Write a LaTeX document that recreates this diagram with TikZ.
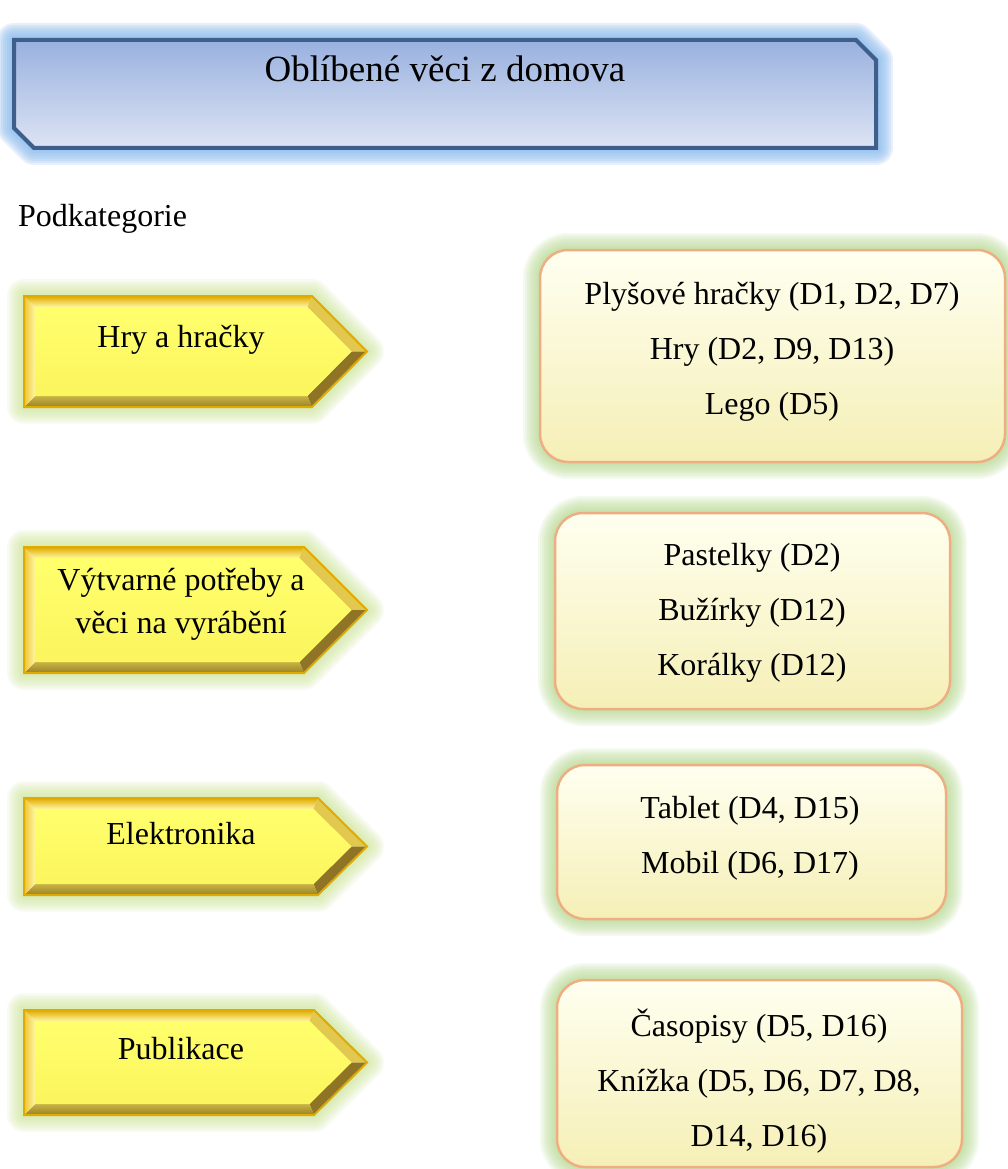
\documentclass[tikz,border=0pt]{standalone}
\usepackage{fontspec}
\setmainfont{Liberation Serif}
\usetikzlibrary{calc}

% palette
\definecolor{titletop}{HTML}{99B1DF}
\definecolor{titlebot}{HTML}{DDE4F4}
\definecolor{titleedge}{HTML}{3E5F8C}
\definecolor{titleglow}{HTML}{8EBDEF}
\definecolor{arrowedge}{HTML}{E0AA00}
\definecolor{arrowface}{HTML}{FFFF6C}
\definecolor{arrowfacelo}{HTML}{FBF55E}
\definecolor{facettop}{HTML}{FFF6A0}
\definecolor{facetleft}{HTML}{EEC436}
\definecolor{facetbotin}{HTML}{C9B445}
\definecolor{facetbotout}{HTML}{9A8126}
\definecolor{facetupdiag}{HTML}{E2C84E}
\definecolor{facetlowdiag}{HTML}{8E7424}
\definecolor{arrowglow}{HTML}{CFE79C}
\definecolor{boxtop}{HTML}{FFFFF0}
\definecolor{boxmid}{HTML}{FAF7C6}
\definecolor{boxbot}{HTML}{F5EFB6}
\definecolor{boxedge}{HTML}{EFAE82}
\definecolor{boxglow}{HTML}{B0D685}

\tikzset{
  bodytext/.style={font=\fontsize{32}{55}\selectfont, align=center, inner sep=0pt},
  arrowtext/.style={font=\fontsize{32}{38}\selectfont, align=center, inner sep=0pt},
  arrowtexttwo/.style={font=\fontsize{32}{43}\selectfont, align=center, inner sep=0pt},
  titletext/.style={font=\fontsize{37}{44}\selectfont, inner sep=0pt},
  plaintext/.style={font=\fontsize{32}{38}\selectfont, inner sep=0pt},
  glowline/.style 2 args={line join=round, draw opacity=#2, draw=#1},
}

% soft halo: a stack of faint wide strokes along a closed path
\newcommand\halo[3]{%
  \foreach \w in {34,30,...,2}{\draw[glowline={#1}{#2}, line width=\w pt] #3;}}

% bevelled pentagon arrow: left x, top y, end of body x, tip x, bottom y
\newcommand\bevelarrow[5]{%
  \pgfmathsetmacro\ymid{(#2+#5)/2}
  \coordinate (o1) at (#1,#2);
  \coordinate (o2) at (#3,#2);
  \coordinate (o3) at (#4,\ymid);
  \coordinate (o4) at (#3,#5);
  \coordinate (o5) at (#1,#5);
  \coordinate (i1) at (#1+11,#2+11);
  \coordinate (i2) at (#3-4.5,#2+11);
  \coordinate (i3) at (#4-15.5,\ymid);
  \coordinate (i4) at (#3-4.5,#5-11);
  \coordinate (i5) at (#1+11,#5-11);
  \halo{arrowglow}{0.14}{(o1)--(o2)--(o3)--(o4)--(o5)--cycle}
  \shade[top color=arrowedge, bottom color=facettop] (o1)--(o2)--(i2)--(i1)--cycle;
  \fill[facetupdiag] (o2)--(o3)--(i3)--(i2)--cycle;
  \fill[facetlowdiag] (o3)--(o4)--(i4)--(i3)--cycle;
  \shade[top color=facetbotin, bottom color=facetbotout] (o4)--(o5)--(i5)--(i4)--cycle;
  \shade[left color=facetleft, right color=facettop] (o5)--(o1)--(i1)--(i5)--cycle;
  \shade[top color=arrowface, bottom color=arrowfacelo] (i1)--(i2)--(i3)--(i4)--(i5)--cycle;
  \draw[arrowedge, line width=2pt, line join=miter] (o1)--(o2)--(o3)--(o4)--(o5)--cycle;
}

% rounded item panel: x0, y0, x1, y1
\newcommand\itempanel[4]{%
  \halo{boxglow}{0.12}{[rounded corners=28pt] (#1,#2) rectangle (#3,#4)}
  \draw[boxedge, line width=2.5pt, rounded corners=28pt,
        top color=boxtop, middle color=boxmid, bottom color=boxbot]
        (#1,#2) rectangle (#3,#4);
}

\begin{document}
\begin{tikzpicture}[x=1pt, y=-1pt]
\useasboundingbox (0,0) rectangle (1008,1169);
\fill[white] (0,0) rectangle (1008,1169);

% heading banner with cut corners
\halo{titleglow}{0.2}{(14,40)--(856,40)--(876,60)--(876,148)--(34,148)--(14,128)--cycle}
\draw[titleedge, line width=4pt, line join=miter, top color=titletop, bottom color=titlebot]
  (14,40)--(856,40)--(876,60)--(876,148)--(34,148)--(14,128)--cycle;
\node[titletext] (title) at (445,69) {Oblíbené věci z domova};

\node[plaintext, anchor=west] (sub) at (18,219) {Podkategorie};

% categories
\bevelarrow{24}{296}{312}{367}{407}
\node[arrowtext] (cat1) at (181,340) {Hry a hračky};

\bevelarrow{24}{547}{304}{367}{673}
\node[arrowtexttwo] (cat2) at (181,604) {Výtvarné potřeby a\\věci na vyrábění};

\bevelarrow{24}{798}{318}{367}{895}
\node[arrowtext] (cat3) at (181,834) {Elektronika};

\bevelarrow{24}{1010}{314}{367}{1115}
\node[arrowtext] (cat4) at (181,1049) {Publikace};

% items
\itempanel{540}{250}{1005}{462}
\node[bodytext] (items1) at (772,352) {Plyšové hračky (D1, D2, D7)\\Hry (D2, D9, D13)\\Lego (D5)};

\itempanel{555}{513}{950}{709}
\node[bodytext] (items2) at (752,613) {Pastelky (D2)\\Bužírky (D12)\\Korálky (D12)};

\itempanel{557}{765}{946}{919}
\node[bodytext] (items3) at (750,838) {Tablet (D4, D15)\\Mobil (D6, D17)};

\itempanel{557}{980}{962}{1167}
\node[bodytext] (items4) at (759,1081) {Časopisy (D5, D16)\\Knížka (D5, D6, D7, D8,\\D14, D16)};
\end{tikzpicture}
\end{document}
